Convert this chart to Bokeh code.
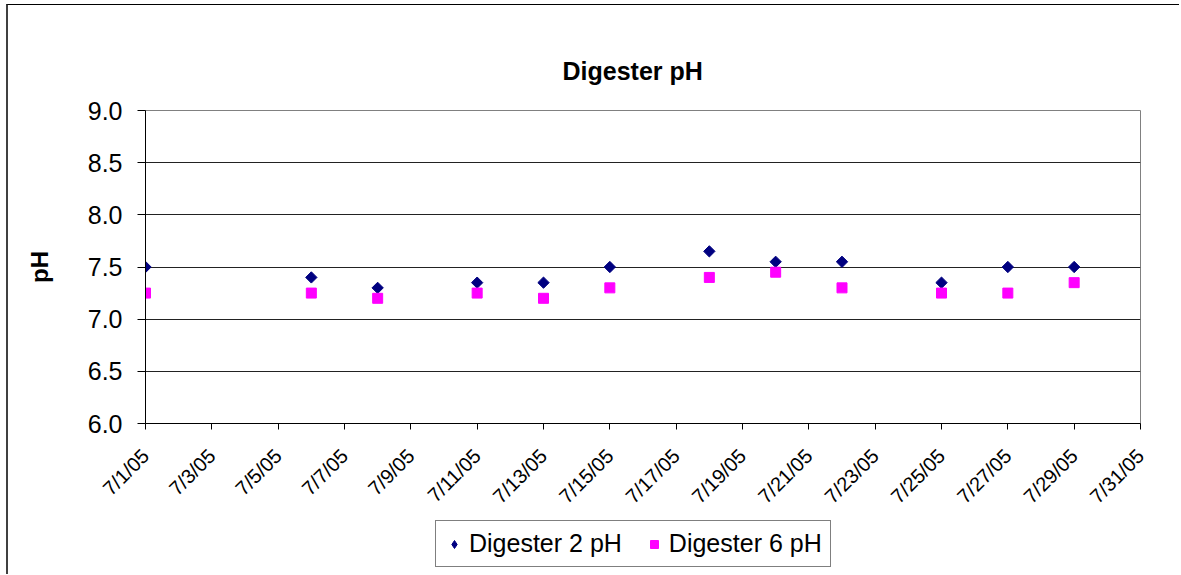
from datetime import datetime
from math import pi

from bokeh.plotting import figure
from bokeh.layouts import column
from bokeh.models import (FixedTicker, Legend, LegendItem, PrintfTickFormatter,
                          InlineStyleSheet)
from bokeh.embed import file_html
from bokeh.resources import INLINE

# ---- data ----
dates = ["7/1/05", "7/6/05", "7/8/05", "7/11/05", "7/13/05", "7/15/05",
         "7/18/05", "7/20/05", "7/22/05", "7/25/05", "7/27/05", "7/29/05"]
digester2_ph = [7.50, 7.40, 7.30, 7.35, 7.35, 7.50, 7.65, 7.55, 7.55, 7.35, 7.50, 7.50]
digester6_ph = [7.25, 7.25, 7.20, 7.25, 7.20, 7.30, 7.40, 7.45, 7.30, 7.25, 7.25, 7.35]
x_tick_labels = ["7/1/05", "7/3/05", "7/5/05", "7/7/05", "7/9/05", "7/11/05",
                 "7/13/05", "7/15/05", "7/17/05", "7/19/05", "7/21/05", "7/23/05",
                 "7/25/05", "7/27/05", "7/29/05", "7/31/05"]
y_ticks = [6.0, 6.5, 7.0, 7.5, 8.0, 8.5, 9.0]
series_names = ["Digester 2 pH", "Digester 6 pH"]
series_colors = ["#000080", "#FF00FF"]

start = datetime(2005, 7, 1)
def day(s):
    return (datetime.strptime(s, "%m/%d/%y") - start).days

x = [day(d) for d in dates]
tick_pos = [day(t) for t in x_tick_labels]

FONT = "Liberation Sans"

# ---------------- main chart ----------------
p = figure(frame_width=995, frame_height=313,
           x_range=(tick_pos[0], tick_pos[-1]),
           y_range=(y_ticks[0], y_ticks[-1]),
           output_backend="svg", toolbar_location=None,
           min_border_left=137, min_border_right=39,
           min_border_top=105, min_border_bottom=92)
p.background_fill_color = "white"
p.border_fill_color = "white"
p.outline_line_color = "#808080"
p.outline_line_width = 1

# title
p.title.text = "Digester pH"
p.title.align = "left"
p.title.offset = 417
p.title.text_font = FONT
p.title.text_font_size = "25px"
p.title.text_font_style = "bold"
p.title.text_color = "black"
p.title.standoff = 52

# y axis
yax = p.yaxis[0]
yax.ticker = FixedTicker(ticks=y_ticks)
yax.formatter = PrintfTickFormatter(format="%.1f")
yax.axis_label = "pH"
yax.axis_label_text_font = FONT
yax.axis_label_text_font_size = "24px"
yax.axis_label_text_font_style = "bold"
yax.axis_label_text_color = "black"
yax.axis_label_standoff = 32
yax.major_label_text_font = FONT
yax.major_label_text_font_size = "25px"
yax.major_label_text_color = "black"
yax.major_label_standoff = 15
yax.major_tick_out = 8
yax.major_tick_in = 0
yax.minor_tick_line_color = None
yax.axis_line_color = "black"
yax.major_tick_line_color = "black"

# x axis
xax = p.xaxis[0]
xax.ticker = FixedTicker(ticks=tick_pos)
xax.major_label_overrides = {t: lab for t, lab in zip(tick_pos, x_tick_labels)}
xax.major_label_orientation = pi / 4
xax.major_label_text_font = FONT
xax.major_label_text_font_size = "20px"
xax.major_label_text_color = "black"
xax.major_label_standoff = 23
xax.major_tick_out = 6
xax.major_tick_in = 0
xax.minor_tick_line_color = None
xax.axis_line_color = "black"
xax.major_tick_line_color = "black"

p.xgrid.visible = False
p.ygrid.grid_line_color = "#222222"
p.ygrid.grid_line_width = 1

p.scatter(x, digester2_ph, marker="square", angle=pi / 4, size=8,
          fill_color=series_colors[0], line_color=series_colors[0])
p.scatter(x, digester6_ph, marker="square", size=10,
          fill_color=series_colors[1], line_color=series_colors[1])

# ---------------- legend strip (same frame geometry as the chart) ----------------
lg = figure(frame_width=995, frame_height=56,
            x_range=(tick_pos[0], tick_pos[-1]), y_range=(0, 1),
            output_backend="svg", toolbar_location=None,
            x_axis_location=None, y_axis_location=None,
            min_border_left=137, min_border_right=39,
            min_border_top=0, min_border_bottom=0)
lg.xgrid.visible = False
lg.ygrid.grid_line_color = None
lg.outline_line_color = None
lg.background_fill_color = "white"
lg.border_fill_color = "white"
# same series, out of this strip's visible y range: used only as legend keys
k1 = lg.scatter(x, digester2_ph, marker="diamond", size=15,
                fill_color=series_colors[0], line_color=series_colors[0])
k2 = lg.scatter(x, digester6_ph, marker="square", size=10,
                fill_color=series_colors[1], line_color=series_colors[1])

legend = Legend(items=[LegendItem(label=series_names[0], renderers=[k1]),
                       LegendItem(label=series_names[1], renderers=[k2])],
                orientation="horizontal", location=(290, 7))
legend.label_text_font = FONT
legend.label_text_font_size = "25px"
legend.label_text_color = "black"
legend.border_line_color = "black"
legend.border_line_width = 1
legend.background_fill_color = "white"
legend.background_fill_alpha = 1
legend.padding = 8
legend.margin = 0
legend.spacing = 22
legend.glyph_width = 20
legend.glyph_height = 20
legend.label_standoff = 5
lg.add_layout(legend, "center")

layout = column(p, lg, spacing=0)
layout.stylesheets = [InlineStyleSheet(css=":host { margin: 4px 0 0 6px; border-top: 1px solid #000000; border-left: 2px solid #404040; }")]

open("out.html", "w").write(file_html(layout, INLINE))
